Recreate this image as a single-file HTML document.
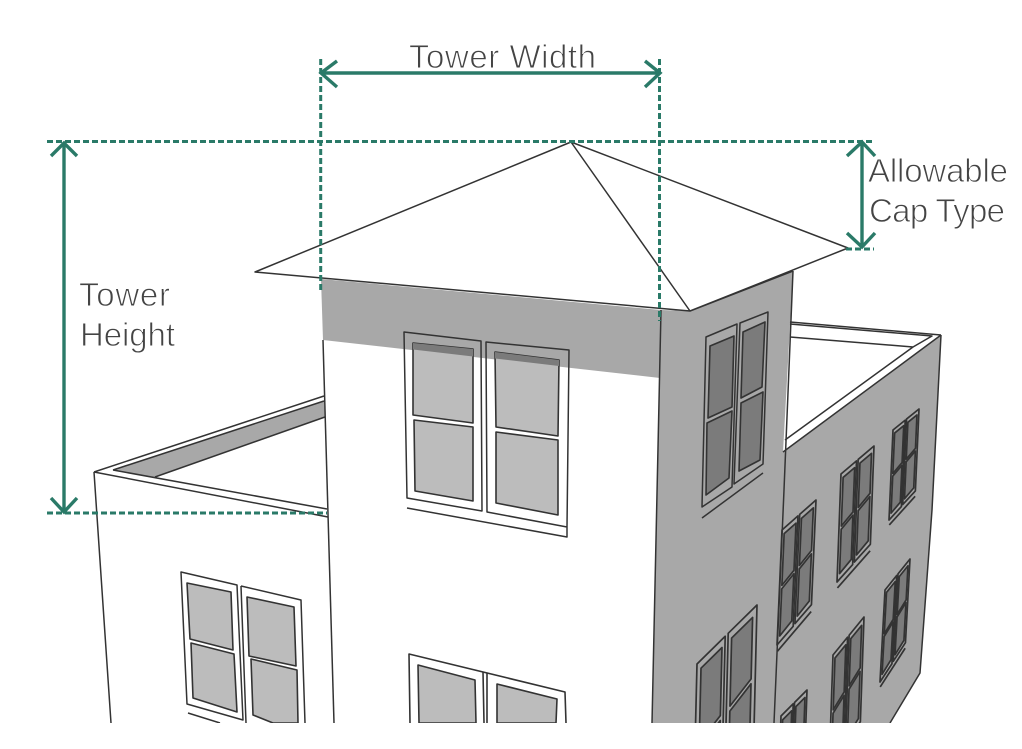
<!DOCTYPE html>
<html><head><meta charset="utf-8"><style>
html,body{margin:0;padding:0;background:#fff;width:1022px;height:749px;overflow:hidden}
svg{display:block;overflow:hidden}
text{font-family:"Liberation Sans",sans-serif;font-size:33px;fill:#444;stroke:#fff;stroke-width:.9px}
.l{fill:none;stroke:#333;stroke-width:1.5;stroke-linejoin:round}
.p{fill:#bcbcbc;stroke:#333;stroke-width:1.6;stroke-linejoin:round}
.d{fill:#7b7b7b;stroke:#333;stroke-width:1.6;stroke-linejoin:round}
.u *{vector-effect:non-scaling-stroke}
.u path{stroke:#333;stroke-width:1.7;stroke-linejoin:round}
.dash{fill:none;stroke:#2a7a68;stroke-width:3;stroke-dasharray:6 3}
.arr{fill:none;stroke:#2a7a68;stroke-width:3.4}
</style></head><body>
<svg width="1022" height="749" viewBox="0 0 1022 749" xmlns="http://www.w3.org/2000/svg">
<defs>
<clipPath id="c"><rect x="0" y="0" width="1022" height="723"/></clipPath>
<g id="w" class="u">
<path fill="none" d="M0 0L47 0L47 96L0 100Z"/>
<path fill="none" d="M52 0L100 0L100 91L52 95Z"/>
<path fill="none" d="M2 106L100 97"/>
<path fill="#7b7b7b" d="M7 5L42 5L42 46L7 50Z"/>
<path fill="#7b7b7b" d="M7 53L42 49L42 90L7 94Z"/>
<path fill="#7b7b7b" d="M58 5L93 5L93 42L58 46Z"/>
<path fill="#7b7b7b" d="M58 49L93 45L93 86L58 90Z"/>
</g>
</defs>
<rect width="1022" height="749" fill="#fff"/>
<g clip-path="url(#c)">
<polygon points="113,470 324,401 325,417 155,477" fill="#a8a8a8"/>
<path class="l" d="M94,472L324,396M113,470L324,401M155,477L325,417M113,470L327,509M94,472L328,517M94,472L111,723"/>
<path class="l" d="M181,572L237,585L243,720L187,704ZM241,586L301,600L305,723M246,723L241,586M188,713L220,723"/>
<path class="p" d="M187,583L231,592L233,650L190,639Z"/>
<path class="p" d="M191,643L234,654L237,712L193,698Z"/>
<path class="p" d="M247,597L294,607L296,666L249,656Z"/>
<path class="p" d="M251,659L297,670L298,723L273,723L253,715Z"/>
<polygon points="321,279 661,310 660,378 323,340" fill="#a8a8a8"/>
<path class="l" d="M323,340L334,723"/>
<path class="l" d="M404,332L481,341L482,511L407,498ZM486,342L569,350L567,527L487,512ZM407,508L567,537L567,527"/>
<path class="p" d="M413,343L473,349L473,423L413,415Z"/>
<path class="p" d="M414,420L473,427L473,501L415,491Z"/>
<path class="p" d="M495,352L559,360L558,436L496,427Z"/>
<path class="p" d="M496,432L558,440L558,515L496,503Z"/>
<polygon points="413,343 473,349 473,356.5 413,349.5" fill="#7b7b7b"/>
<polygon points="495,352 559,360 559,366 495,358.5" fill="#7b7b7b"/>
<path class="l" d="M410,723L409,654L565,692L566,723M483,672L484,723M487,673L487,723" style="stroke-width:1.6"/>
<path class="p" d="M419,723L418,665L475,680L476,723Z"/>
<path class="p" d="M497,723L497,684L557,699L556,723Z"/>
<polygon points="661,310 690,311 793,271 783,452 941,335 932,510 920,673 890,723 652,723" fill="#a8a8a8"/>
<path class="l" d="M661,310L652,723M793,271L784,490L774,723M941,335L932,510L920,673L890,723"/>
<path class="l" d="M790,322L941,335M790,324L932,336L913,347M790,337L913,347L785,440M941,335L783,452"/>
<path class="l" d="M706,337L737,324L732,487L702,507ZM740,323L768,312L763,464L734,484ZM702,518L763,473"/>
<path class="d" d="M710,346L734,336L732,407L708,418Z"/>
<path class="d" d="M707,423L732,411L729,478L706,495Z"/>
<path class="d" d="M743,332L765,322L762,387L741,398Z"/>
<path class="d" d="M741,403L763,392L760,460L739,471Z"/>
<use href="#w" transform="matrix(.26 -.21 -.04 .9 893 430)"/>
<use href="#w" transform="matrix(.33 -.28 -.04 1.08 841 474)"/>
<use href="#w" transform="matrix(.34 -.3 -.05 1.15 782 530)"/>
<use href="#w" transform="matrix(.25 -.31 -.05 .92 885 590)"/>
<use href="#w" transform="matrix(.31 -.38 -.04 1.15 833 655)"/>
<use href="#w" transform="matrix(.6 -.59 -.04 1.66 697 664)"/>
<use href="#w" transform="matrix(.26 -.26 -.04 1.14 781 716)"/>
<path class="l" d="M255,272L571,142L848,248L690,311L255,272ZM571,142L690,311M690,311L793,271"/>
</g>
<path class="dash" d="M47,141.5H874M47,513H327M846,249H874M320.7,59V290M659.5,59V321"/>
<path class="arr" d="M321,73H660M337,61L321,73L337,87M645,61L660,73L645,87"/>
<path class="arr" d="M64,143V512M51,156L64,143L77,156M51,498L64,512L77,498"/>
<path class="arr" d="M862,143V247M847,156L862,142L875,156M847,233L862,247L875,233"/>
<text x="409" y="68" textLength="187">Tower Width</text>
<text x="79" y="306" textLength="91">Tower</text>
<text x="80" y="346" textLength="95">Height</text>
<text x="868" y="182" textLength="140">Allowable</text>
<text x="869" y="222" textLength="136">Cap Type</text>
</svg>
</body></html>
